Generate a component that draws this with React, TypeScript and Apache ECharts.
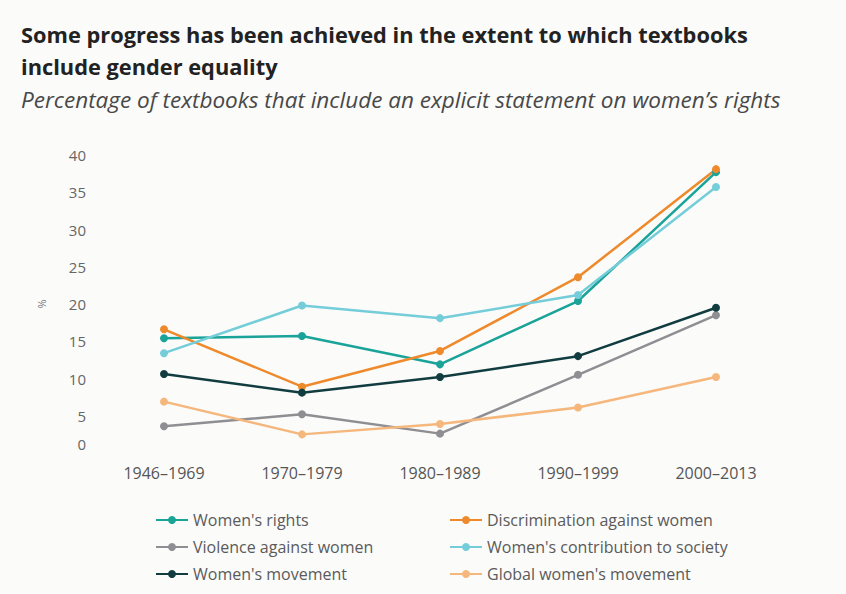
import React, { useEffect, useRef } from "react";
import * as echarts from "echarts";

const categories = ["1946–1969", "1970–1979", "1980–1989", "1990–1999", "2000–2013"];

const womensRights = [15.4, 15.7, 11.9, 20.4, 37.7];
const discrimination = [16.6, 8.9, 13.7, 23.6, 38.1];
const violence = [3.6, 5.2, 2.6, 10.5, 18.5];
const contribution = [13.4, 19.8, 18.1, 21.2, 35.7];
const movement = [10.6, 8.1, 10.2, 13.0, 19.5];
const globalMovement = [6.9, 2.5, 3.9, 6.1, 10.2];

const seriesDefs = [
  { name: "Women's rights", data: womensRights, color: "#1aa398" },
  { name: "Discrimination against women", data: discrimination, color: "#ee8a2c" },
  { name: "Violence against women", data: violence, color: "#8f8f93" },
  { name: "Women's contribution to society", data: contribution, color: "#74cdd8" },
  { name: "Women's movement", data: movement, color: "#123d40" },
  { name: "Global women's movement", data: globalMovement, color: "#f5b77c" },
];

export default function App() {
  const ref = useRef<HTMLDivElement>(null);
  useEffect(() => {
    if (!ref.current) return;
    const chart = echarts.init(ref.current, undefined, { renderer: "svg" });
    const font = "Open Sans, sans-serif";
    chart.setOption({
      animation: false,
      backgroundColor: "#fbfbfa",
      title: [
        {
          text: "Some progress has been achieved in the extent to which textbooks\ninclude gender equality",
          left: 16,
          top: 13,
          textStyle: { fontFamily: font, fontSize: 21.8, fontWeight: "bold", color: "#222", lineHeight: 32 },
        },
        {
          text: "Percentage of textbooks that include an explicit statement on women’s rights",
          left: 16,
          top: 83,
          textStyle: { fontFamily: font, fontSize: 22.5, fontStyle: "italic", fontWeight: "normal", color: "#484848" },
        },
      ],
      grid: { left: 95, right: 61, top: 155, bottom: 141 },
      xAxis: {
        type: "category",
        data: categories,
        boundaryGap: true,
        axisLine: { show: false },
        axisTick: { show: false },
        axisLabel: { fontFamily: font, fontSize: 16, color: "#555", margin: 12 },
      },
      yAxis: {
        type: "value",
        min: 0,
        max: 40,
        interval: 5,
        name: "%",
        nameLocation: "middle",
        nameRotate: 90,
        nameGap: 48,
        nameTextStyle: { fontFamily: font, fontSize: 11, color: "#777" },
        splitLine: { show: false },
        axisLine: { show: false },
        axisTick: { show: false },
        axisLabel: {
          fontFamily: font,
          fontSize: 15,
          color: "#666",
          margin: 9,
          formatter: (v: number) => (v === 0 ? "{z|0}" : String(v)),
          rich: { z: { fontFamily: font, fontSize: 15, color: "#666", padding: [0, 0, 18, 0] } },
        },
      },
      legend: [
        {
          orient: "vertical",
          left: 150,
          top: 507,
          itemGap: 11,
          itemWidth: 32,
          itemHeight: 10,
          data: ["Women's rights", "Violence against women", "Women's movement"],
          textStyle: { fontFamily: font, fontSize: 16, color: "#5a5a5a" },
        },
        {
          orient: "vertical",
          left: 444,
          top: 507,
          itemGap: 11,
          itemWidth: 32,
          itemHeight: 10,
          data: ["Discrimination against women", "Women's contribution to society", "Global women's movement"],
          textStyle: { fontFamily: font, fontSize: 16, color: "#5a5a5a" },
        },
      ],
      series: seriesDefs.map((s) => ({
        name: s.name,
        type: "line",
        data: s.data,
        symbol: "circle",
        symbolSize: 8,
        itemStyle: { color: s.color },
        lineStyle: { color: s.color, width: 2.5 },
      })),
    });
    return () => chart.dispose();
  }, []);
  return <div ref={ref} style={{ width: 846, height: 594, position: "absolute", left: 0, top: 0 }} />;
}
